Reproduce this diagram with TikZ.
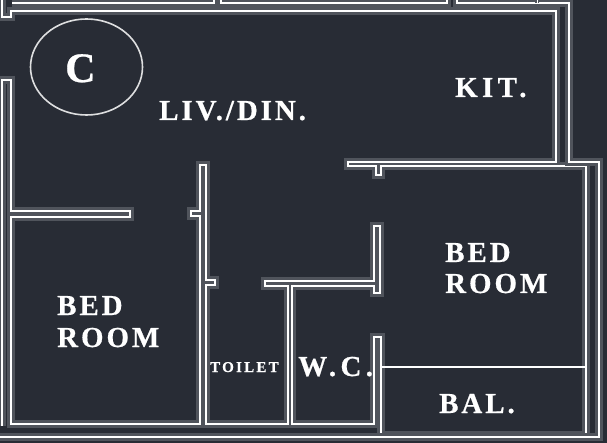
\documentclass[tikz,border=0pt]{standalone}
\usepackage{fontspec}
\setmainfont{Liberation Serif}[LetterSpace=10,FakeBold=.6]
\newfontfamily\widefont{Liberation Serif}[LetterSpace=15,FakeBold=.6]
\definecolor{floorbg}{HTML}{282C35}
\definecolor{wallhalo}{HTML}{50545C}
\tikzset{
	wall/.style={draw=wallhalo,line width=3pt,double=white,double distance=1.8pt,line join=miter},
	room/.style={anchor=base west,inner sep=0pt,text=white,font=\bfseries\fontsize{29}{29}\selectfont},
	roomwide/.style={room,font=\widefont\bfseries\fontsize{29}{29}\selectfont},
}
\begin{document}
\begin{tikzpicture}[x=1pt,y=-1pt]
	\useasboundingbox[fill=floorbg] (0,0) rectangle (607,443) ;
	% outer walls
	\draw[wall] (2,0)--(2,17)--(11,17)--(11,11)--(556,11)--(556,162)--(348,162)--(348,166)--(376,166)--(376,175)--(381,175)--(381,166)--(586,166)--(586,435)--(381,435)--(381,337)--(374,337)--(374,424)--(292,424)--(292,286)--(374,286)--(374,293)--(380,293)--(380,226)--(374,226)--(374,281)--(265,281)--(265,286)--(288,286)--(288,424)--(206,424)--(206,285)--(215,285)--(215,280)--(206,280)--(206,165)--(200,165)--(200,211)--(191,211)--(191,216)--(200,216)--(200,424)--(11,424)--(11,217)--(130,217)--(130,211)--(11,211)--(11,80)--(2,80)--(2,426) ;
	\draw[wall] (214,0)--(214,3)--(12,3) ;
	\draw[wall] (221,0)--(221,3)--(447,3)--(447,0) ;
	\draw[wall] (457,0)--(457,3)--(569,3)--(569,162)--(599,162)--(599,437)--(0,437) ;
	\draw[wall,line width=1.6pt,double distance=.6pt] (537,0)--(537,3) ;
	% balcony line
	\draw[white,line width=1.8pt] (381,367)--(586,367) ;
	\draw[white,line width=1.6pt,opacity=.85] (86.5,67) ellipse [x radius=56,y radius=48] ;
	% labels
	\node[room,font=\bfseries\fontsize{42}{42}\selectfont] (mark) at (65,82) {C} ;
	\node[room] (livdin) at (159,120) {LIV./DIN.} ;
	\node[roomwide] (kit) at (455,97) {KIT.} ;
	\node[room] (bedA) at (445,262) {BED} ;
	\node[room] (roomA) at (445,293) {ROOM} ;
	\node[room] (bedB) at (57,315) {BED} ;
	\node[room] (roomB) at (57,347) {ROOM} ;
	\node[room] (bal) at (439,413) {BAL.} ;
	\node[roomwide] (wc) at (298,376) {W.C.} ;
	\node[roomwide,font=\widefont\bfseries\fontsize{15}{15}\selectfont] (toilet) at (210,372) {TOILET} ;
\end{tikzpicture}
\end{document}
